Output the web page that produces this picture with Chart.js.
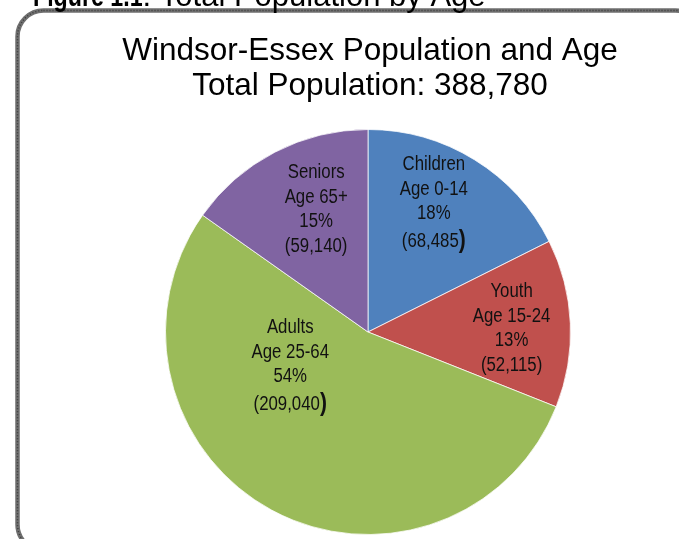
<!DOCTYPE html>
<html>
<head>
<meta charset="utf-8">
<script src="https://cdn.jsdelivr.net/npm/chart.js@4/dist/chart.umd.min.js"></script>
<style>
  html, body { margin: 0; padding: 0; background: #fff; }
  #wrap { width: 679px; height: 539px; position: relative; }
</style>
</head>
<body>
<div id="wrap"><canvas id="c" width="679" height="539"></canvas></div>
<script>
// Age groups and their population counts (Windsor-Essex)
const groups = ['Children', 'Youth', 'Adults', 'Seniors'];
const ageRanges = ['Age 0-14', 'Age 15-24', 'Age 25-64', 'Age 65+'];
const population = [68485, 52115, 209040, 59140];
const colors = ['#4F81BD', '#C0504D', '#9BBB59', '#8064A2'];

const heading = ['Figure 1.1', ': Total Population by Age'];
const titleLines = ['Windsor-Essex Population and Age', 'Total Population: 388,780'];

// Label placement inside each slice: first-line offset from pie centre in radius units
const labelAnchor = [[0.325, -0.798], [0.709, -0.172], [-0.384, 0.005], [-0.256, -0.759]];
// Closing bracket drawn heavier on these slices
const heavyBracket = [true, false, true, false];

const total = population.reduce((a, b) => a + b, 0);
const SANS = "'Liberation Sans', Arial, sans-serif";
const LABEL_SIZE = 20;
const SQUEEZE = 0.84; // condensed look for slice labels

// draw text horizontally condensed, anchored by its centre (or left edge)
function squeezed(ctx, text, x, y, align, k) {
  const s = k || SQUEEZE;
  const w = ctx.measureText(text).width * s;
  const left = align === 'left' ? x : x - w / 2;
  ctx.save();
  ctx.translate(left, y);
  ctx.scale(s, 1);
  ctx.textAlign = 'left';
  ctx.fillText(text, 0, 0);
  ctx.restore();
  return w;
}

const decor = {
  id: 'decor',
  beforeDraw(chart) {
    const ctx = chart.ctx;
    ctx.save();
    // rounded frame around the figure
    ctx.beginPath();
    ctx.roundRect(17.5, 10.5, 684, 540, 26);
    ctx.lineWidth = 4.5;
    ctx.strokeStyle = '#6f6f6f';
    ctx.stroke();
    ctx.setLineDash([1, 2]);
    ctx.lineWidth = 1.5;
    ctx.strokeStyle = '#3a3a3a';
    ctx.stroke();
    ctx.setLineDash([]);
    // figure heading (only its lower part is inside the page)
    ctx.fillStyle = '#000';
    ctx.textBaseline = 'alphabetic';
    ctx.font = 'bold 29px ' + SANS;
    const w0 = squeezed(ctx, heading[0], 33, 6, 'left', 0.8);
    ctx.textAlign = 'left';
    ctx.font = '31px ' + SANS;
    ctx.fillText(heading[1], 33 + w0, 6);
    // chart title
    ctx.textAlign = 'center';
    ctx.font = '31.5px ' + SANS;
    ctx.fillText(titleLines[0], 370, 60);
    ctx.fillText(titleLines[1], 370, 95);
    ctx.restore();
  },
  afterDatasetsDraw(chart) {
    const ctx = chart.ctx;
    const meta = chart.getDatasetMeta(0);
    ctx.save();
    ctx.fillStyle = '#111';
    ctx.textBaseline = 'alphabetic';
    meta.data.forEach((arc, i) => {
      const r = arc.outerRadius;
      const cx = arc.x + labelAnchor[i][0] * r;
      let y = arc.y + labelAnchor[i][1] * r;
      const pct = Math.round(population[i] / total * 100) + '%';
      const lines = [groups[i], ageRanges[i], pct];
      ctx.font = LABEL_SIZE + 'px ' + SANS;
      lines.forEach((t, k) => squeezed(ctx, t, cx, y + k * 24.5));
      y += 3 * 24.5;
      const inner = '(' + population[i].toLocaleString('en-US');
      if (heavyBracket[i]) {
        y += 3;
        ctx.font = LABEL_SIZE + 'px ' + SANS;
        const wi = ctx.measureText(inner).width * SQUEEZE;
        ctx.font = 'bold 25px ' + SANS;
        const wb = ctx.measureText(')').width * SQUEEZE;
        const x0 = cx - (wi + wb) / 2;
        ctx.font = LABEL_SIZE + 'px ' + SANS;
        squeezed(ctx, inner, x0, y, 'left');
        ctx.font = 'bold 25px ' + SANS;
        squeezed(ctx, ')', x0 + wi, y + 1, 'left');
      } else {
        ctx.font = LABEL_SIZE + 'px ' + SANS;
        squeezed(ctx, inner + ')', cx, y);
      }
    });
    ctx.restore();
  }
};

new Chart(document.getElementById('c'), {
  type: 'pie',
  data: {
    labels: groups,
    datasets: [{
      data: population,
      backgroundColor: colors,
      borderColor: 'rgba(255,255,255,0.75)',
      borderWidth: 1
    }]
  },
  options: {
    responsive: false,
    animation: false,
    layout: { padding: { top: 129, bottom: 4, left: 165, right: 108 } },
    plugins: {
      legend: { display: false },
      title: { display: false },
      tooltip: { enabled: false }
    }
  },
  plugins: [decor]
});
</script>
</body>
</html>
